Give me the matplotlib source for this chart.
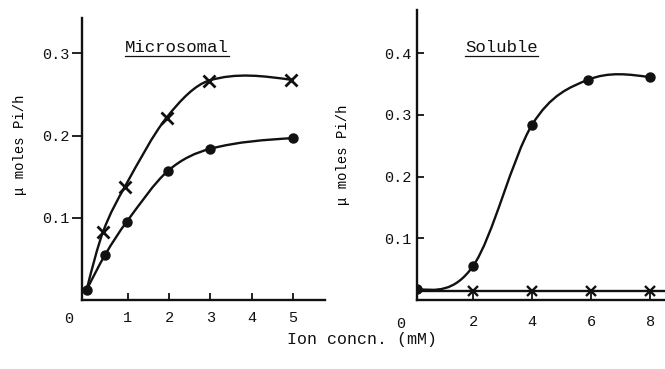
import numpy as np
import matplotlib
matplotlib.use("Agg")
import matplotlib.pyplot as plt
from matplotlib.path import Path
from matplotlib.patches import PathPatch

plt.rcParams["font.family"] = ["Liberation Mono", "DejaVu Sans Mono"]
INK = "#111111"

# Microsomal fraction: crosses and dots share the zero-ion point
mic_x_cross = [0.0, 0.4, 0.93, 1.94, 2.97, 4.95]
mic_y_cross = [0.012, 0.083, 0.138, 0.222, 0.267, 0.268]
mic_x_dot = [0.0, 0.45, 0.97, 1.97, 3.0, 5.0]
mic_y_dot = [0.012, 0.055, 0.095, 0.157, 0.184, 0.197]

# Soluble fraction
sol_x_dot = [0.1, 2.0, 4.0, 5.9, 8.0]
sol_y_dot = [0.018, 0.055, 0.284, 0.357, 0.361]
sol_x_cross = [2.0, 4.0, 6.0, 8.0]
sol_y_cross = [0.014, 0.014, 0.014, 0.014]

mic_xticks = [1, 2, 3, 4, 5]
mic_yticks = [0.1, 0.2, 0.3]
sol_xticks = [2, 4, 6, 8]
sol_yticks = [0.1, 0.2, 0.3, 0.4]


def smooth_path(xs, ys):
    """Hermite curve through the points (central-difference slopes) as Bezier segments."""
    x = np.asarray(xs, float)
    y = np.asarray(ys, float)
    d = np.diff(y) / np.diff(x)
    m = np.empty_like(x)
    m[1:-1] = (y[2:] - y[:-2]) / (x[2:] - x[:-2])
    m[0] = 1.5 * d[0] - 0.5 * m[1]
    m[-1] = 1.5 * d[-1] - 0.5 * m[-2]
    verts = [(x[0], y[0])]
    codes = [Path.MOVETO]
    for i in range(len(x) - 1):
        h = x[i + 1] - x[i]
        verts += [(x[i] + h / 3, y[i] + m[i] * h / 3),
                  (x[i + 1] - h / 3, y[i + 1] - m[i + 1] * h / 3),
                  (x[i + 1], y[i + 1])]
        codes += [Path.CURVE4] * 3
    return Path(verts, codes)


def curve(ax, xs, ys):
    ax.add_patch(PathPatch(smooth_path(xs, ys), facecolor="none",
                           edgecolor=INK, lw=1.7, zorder=2))


def style(ax, ytick_dir):
    for s in ("top", "right"):
        ax.spines[s].set_visible(False)
    for s in ("left", "bottom"):
        ax.spines[s].set_linewidth(1.7)
        ax.spines[s].set_color(INK)
    ax.tick_params(axis="x", direction="in", length=5, width=1.3,
                   labelsize=11, pad=8, colors=INK)
    ax.tick_params(axis="y", direction=ytick_dir, length=7 if ytick_dir == "out" else 5,
                   width=1.3, labelsize=11, pad=2 if ytick_dir == "out" else 4, colors=INK)


def underlined_title(fig, ax, text, x, y):
    t = ax.text(x, y, text, transform=ax.transAxes, ha="center", va="center",
                fontsize=12.5, color=INK)
    fig.canvas.draw()
    bb = t.get_window_extent()
    inv = fig.transFigure.inverted()
    (x0, y0), (x1, _) = inv.transform([(bb.x0, bb.y0 - 1), (bb.x1, bb.y0 - 1)])
    fig.add_artist(plt.Line2D([x0, x1], [y0, y0], color=INK, lw=0.9))


fig = plt.figure(figsize=(6.65, 3.69), dpi=100)
axL = fig.add_axes([0.123, 0.187, 0.366, 0.764])
axR = fig.add_axes([0.627, 0.187, 0.373, 0.786])

# ---- microsomal ------------------------------------------------------------
curve(axL, mic_x_cross, mic_y_cross)
curve(axL, mic_x_dot, mic_y_dot)
axL.plot(mic_x_cross[1:], mic_y_cross[1:], ls="none", marker="x", ms=9,
         mew=2.0, color=INK, zorder=3)
axL.plot(mic_x_dot, mic_y_dot, ls="none", marker="o", ms=6.5, color=INK, zorder=3)
axL.set_xlim(-0.115, 5.78)
axL.set_ylim(0, 0.343)
axL.set_xticks(mic_xticks)
axL.set_yticks(mic_yticks)
style(axL, "out")
axL.text(-0.44, -0.015, "0", ha="center", va="top", fontsize=11, color=INK,
         transform=axL.transData)
axL.set_ylabel("\u03bc moles Pi/h", fontsize=10)
axL.yaxis.set_label_coords(-0.225, 0.55)

# ---- soluble ---------------------------------------------------------------
curve(axR, sol_x_dot, sol_y_dot)
axR.plot([0.1, 8.5], [sol_y_cross[0]] * 2, color=INK, lw=1.7, zorder=2)
axR.plot(sol_x_dot, sol_y_dot, ls="none", marker="o", ms=6.5, color=INK, zorder=3)
axR.plot(sol_x_cross, sol_y_cross, ls="none", marker="x", ms=6.5, mew=1.7,
         color=INK, zorder=3)
axR.set_xlim(0.1, 8.5)
axR.set_ylim(0, 0.47)
axR.set_xticks(sol_xticks)
axR.set_yticks(sol_yticks)
style(axR, "in")
axR.tick_params(axis="x", length=8, pad=11)
axR.text(-0.45, -0.028, "0", ha="center", va="top", fontsize=11, color=INK,
         transform=axR.transData)
axR.set_ylabel("\u03bc moles Pi/h", fontsize=10)
axR.yaxis.set_label_coords(-0.27, 0.5)

underlined_title(fig, axL, "Microsomal", 0.39, 0.897)
underlined_title(fig, axR, "Soluble", 0.34, 0.872)

fig.text(0.544, 0.079, "Ion concn. (mM)", ha="center", va="center",
         fontsize=12, color=INK)

fig.savefig("out.png", dpi=100, facecolor="white")
